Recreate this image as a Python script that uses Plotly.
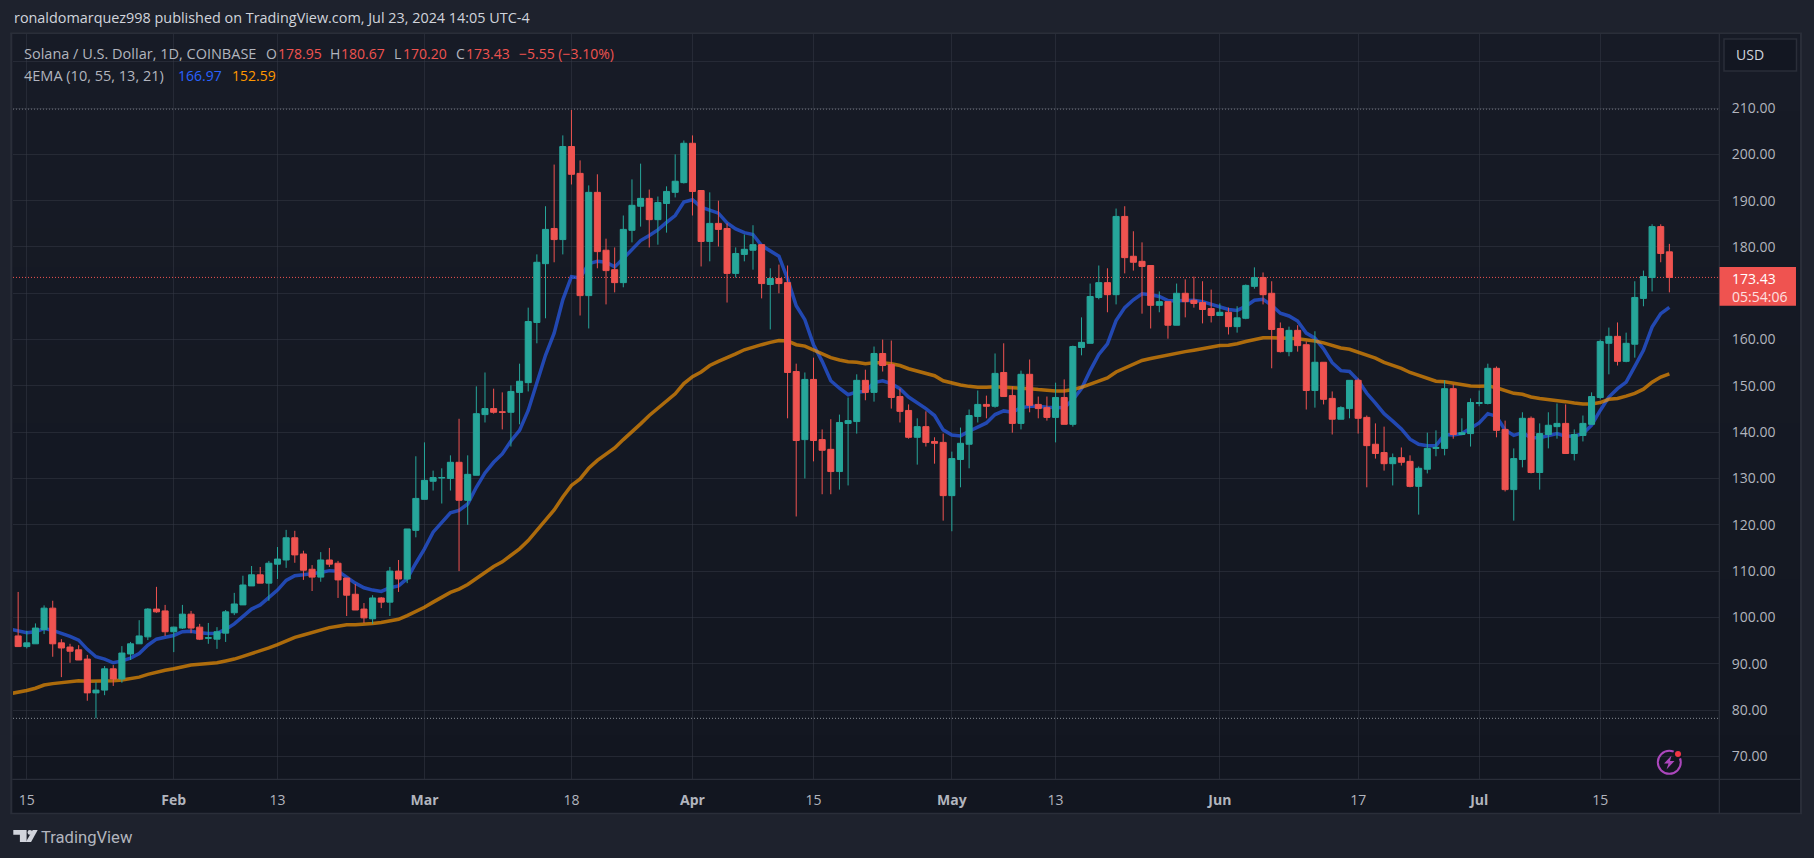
import pandas as pd
import plotly.graph_objects as go

# ---------- data ----------
start_date = "2024-01-14"
opens = [
 96.0,93.7,94.3,97.4,102.0,94.5,93.6,93.0,91.0,83.7,84.3,88.9,86.7,92.1,94.3,95.8,101.8,101.4,
 96.9,97.7,100.7,97.9,95.5,95.3,96.6,101.0,102.7,106.8,109.2,107.4,111.5,112.4,117.2,113.7,110.4,108.7,112.4,111.7,108.5,105.0,101.8,99.7,104.2,103.3,110.0,108.3,118.8,
 125.5,129.4,130.1,130.0,133.5,125.3,130.7,143.8,145.1,144.4,144.3,148.6,150.7,163.7,176.4,184.0,181.6,201.7,195.9,169.5,191.8,179.3,175.1,172.3,183.6,188.8,190.5,185.9,189.4,191.8,193.9,
 202.4,192.2,181.2,185.1,184.0,174.3,178.4,179.3,180.5,171.9,173.2,172.3,153.1,138.4,151.4,138.4,136.3,131.5,141.9,142.3,151.2,148.6,157.0,154.6,147.7,144.7,138.9,141.2,138.0,137.8,
 126.3,134.1,137.4,143.4,146.0,145.6,152.9,147.9,141.9,152.5,146.0,145.3,143.2,147.5,141.7,158.3,159.2,169.1,172.3,169.7,186.6,178.0,176.9,176.0,167.4,168.2,163.1,170.0,168.5,168.0,166.7,
 165.2,165.9,162.8,164.6,171.5,173.4,170.0,162.4,157.4,162.0,158.9,149.0,155.1,147.3,142.8,145.1,151.2,143.2,137.4,135.6,133.2,134.5,133.7,128.3,132.0,136.5,136.5,149.4,139.5,139.7,
 146.2,146.2,153.8,140.6,127.6,134.1,143.0,131.3,139.5,141.2,141.9,135.4,139.3,141.7,147.5,159.2,160.7,155.3,159.0,168.9,173.4,184.4,178.95]
highs = [
 105.5,97.1,98.7,102.6,103.6,95.3,94.3,94.0,91.9,86.0,89.5,89.7,93.8,94.7,99.4,102.0,106.6,102.7,
 98.0,102.7,101.4,98.6,98.8,97.9,101.6,105.3,109.0,111.1,110.9,112.2,115.2,118.9,118.7,114.4,111.3,114.1,115.0,112.2,108.5,107.2,103.1,104.8,104.4,110.9,112.4,119.1,134.8,
 137.8,131.7,132.2,135.0,142.9,135.0,149.9,152.9,149.4,148.6,150.1,154.8,166.9,178.4,188.8,197.8,204.1,209.6,198.7,193.3,195.7,181.8,179.9,186.8,194.6,198.0,192.4,190.9,193.1,200.0,203.0,
 204.1,192.2,191.8,190.0,185.1,179.9,182.7,184.7,180.5,175.4,176.2,176.0,154.8,152.9,156.1,140.6,142.8,143.8,147.5,152.5,153.5,158.5,160.0,159.8,149.4,146.0,143.0,144.5,138.9,139.7,
 135.8,141.0,144.9,149.0,147.9,157.0,159.2,149.9,153.3,155.7,147.7,147.7,150.7,151.4,158.7,164.8,172.1,176.0,175.4,188.3,188.8,183.4,181.0,176.0,170.4,168.2,172.1,173.0,173.6,172.6,170.8,
 167.8,166.9,167.2,171.9,175.6,174.5,172.6,163.7,162.8,163.1,159.6,161.8,155.1,148.8,145.6,151.2,151.6,143.6,141.9,141.2,135.4,136.7,135.0,132.6,139.9,140.4,151.2,150.3,143.0,147.3,
 149.0,154.8,154.2,142.5,136.5,144.3,143.4,141.9,144.3,146.2,146.0,140.6,143.6,148.6,160.0,162.6,163.7,161.5,172.6,174.9,184.9,184.9,180.67]
lows = [
 93.7,93.3,94.3,96.4,91.5,87.1,90.2,90.8,82.0,78.2,83.2,85.2,85.9,90.8,94.3,95.1,101.0,96.0,
 92.5,97.5,96.6,95.1,94.3,93.2,94.7,100.5,102.7,106.8,107.4,103.6,108.3,110.7,111.8,108.1,105.7,107.7,110.9,104.2,100.3,101.6,98.8,98.6,102.0,100.3,105.5,107.4,117.3,
 125.5,127.4,124.6,127.4,110.0,120.0,130.7,142.1,144.0,140.6,136.9,141.7,148.8,159.2,164.6,176.7,178.4,193.5,165.2,162.4,175.4,167.6,170.2,171.3,181.0,184.4,179.9,180.5,183.1,190.7,193.7,
 186.8,175.8,176.9,180.1,168.0,173.4,176.9,175.1,168.9,162.2,170.0,143.0,121.8,130.0,133.7,126.6,126.6,127.6,128.5,139.7,146.9,146.6,153.1,145.1,142.1,138.6,133.0,136.9,133.2,120.9,
 118.6,128.1,132.2,142.1,143.0,145.3,147.7,139.9,140.6,144.3,143.0,142.5,137.8,141.7,141.2,156.6,159.2,168.7,165.9,167.6,174.3,174.9,165.6,162.4,165.9,160.2,163.1,164.8,166.9,163.5,163.7,
 165.2,161.1,161.5,164.4,171.0,167.6,153.8,157.2,156.4,157.4,144.9,145.3,146.0,139.5,142.8,143.0,139.7,128.1,134.3,131.7,128.5,132.8,128.1,122.2,131.1,134.8,135.0,138.6,139.5,136.9,
 145.6,146.0,138.9,127.2,120.9,132.4,131.1,127.6,136.5,138.6,135.4,133.9,138.0,141.7,147.1,152.5,154.4,155.1,156.1,167.2,170.4,176.7,170.20]
closes = [
 93.7,94.5,97.7,102.0,94.3,93.4,92.7,90.8,83.7,84.3,88.9,86.7,92.3,94.3,96.0,101.8,101.2,96.9,
 97.9,100.7,97.7,95.3,95.6,96.9,101.2,102.9,107.0,109.2,107.4,111.7,112.6,117.2,113.5,110.2,108.7,112.4,111.5,108.1,104.8,101.6,99.9,104.2,103.3,110.0,108.3,119.1,125.7,
 129.6,130.2,130.2,133.5,125.3,130.9,144.0,145.1,144.3,144.3,148.8,151.0,163.9,176.7,183.8,181.6,201.7,195.7,169.5,191.8,179.0,174.9,172.3,183.8,189.0,190.5,185.9,189.6,192.0,194.2,202.4,
 192.0,181.2,185.1,183.8,174.3,178.6,179.5,180.5,172.1,173.2,172.1,152.9,138.2,151.4,138.2,136.1,131.5,142.1,142.5,151.2,148.6,157.0,154.4,147.5,144.5,138.9,141.2,137.8,137.6,126.3,
 134.3,137.6,143.6,146.0,145.6,152.7,147.7,141.9,152.5,145.8,145.1,143.2,147.5,141.7,158.5,159.4,169.3,172.3,169.7,186.6,177.7,176.7,175.8,167.4,168.2,163.1,170.0,168.2,167.8,166.5,165.2,
 165.9,162.8,164.7,171.7,173.4,169.7,162.2,157.4,162.0,158.7,149.0,155.1,147.1,142.8,145.3,151.2,143.0,137.1,135.4,133.2,134.5,133.5,128.3,132.2,136.5,136.7,149.4,139.5,139.9,146.4,
 146.4,153.8,140.4,127.6,134.3,143.0,131.3,139.7,141.5,141.9,135.4,139.5,141.9,147.7,159.6,160.7,155.3,159.2,169.1,173.6,184.4,178.6,173.43]

ema_start_date = "2024-01-13"
ema_fast = [
 97.5,97.1,96.7,96.9,97.6,97.2,96.6,95.9,95.1,93.1,91.5,91.0,90.2,90.6,91.2,92.2,94.0,95.3,95.7,
 96.1,96.9,97.0,96.7,96.5,96.6,97.4,98.6,100.2,101.8,102.7,104.4,105.9,108.0,109.0,109.2,109.4,109.7,110.1,110.0,108.7,107.4,106.4,105.9,105.6,106.4,106.8,108.4,111.7,
 114.8,118.4,120.4,122.6,123.1,124.5,128.1,131.2,133.5,135.3,138.1,140.4,144.7,150.8,156.6,161.4,168.6,173.6,173.3,176.4,176.9,176.7,175.7,177.5,179.4,181.4,182.5,183.7,185.3,186.8,189.7,
 190.2,188.6,188.0,187.3,185.2,183.9,183.1,182.7,180.3,179.1,178.0,173.1,167.3,164.3,158.9,155.3,151.1,149.5,148.1,148.7,148.8,150.7,151.1,150.5,149.4,147.6,146.4,145.1,143.6,140.5,
 139.4,139.2,140.2,141.2,142.0,143.8,144.6,144.3,145.3,145.6,145.6,145.4,145.3,145.3,147.0,149.4,153.3,156.8,159.1,164.1,166.9,168.6,169.9,169.7,169.3,168.4,168.4,168.5,168.5,168.2,167.6,
 167.2,166.5,166.3,167.2,168.5,168.7,167.4,165.7,165.1,164.0,161.4,160.3,158.0,155.0,153.3,153.1,151.2,148.4,146.3,144.0,142.4,140.7,138.5,137.4,137.1,137.1,139.5,139.4,139.7,140.9,
 142.0,144.0,143.4,140.5,139.3,139.9,138.8,138.8,139.3,139.7,139.1,139.2,139.7,141.5,144.7,147.6,149.4,150.8,154.2,157.7,162.7,165.6,166.97]
ema_slow = [
 83.5,83.8,84.2,84.7,85.4,85.7,85.9,86.2,86.3,86.2,86.2,86.2,86.3,86.5,86.8,87.1,87.7,88.2,88.6,
 88.9,89.3,89.7,89.9,90.0,90.2,90.6,91.0,91.6,92.2,92.7,93.4,94.1,95.0,95.7,96.2,96.7,97.3,97.8,98.1,98.4,98.4,98.5,98.7,98.9,99.2,99.6,100.4,101.2,
 102.2,103.3,104.3,105.4,106.1,107.1,108.4,109.7,111.0,112.0,113.3,114.8,116.6,118.9,121.2,123.2,126.0,128.5,129.9,132.2,133.9,135.2,136.6,138.4,140.0,141.8,143.6,145.1,146.6,148.3,150.5,
 152.0,153.0,154.4,155.3,156.0,156.9,157.8,158.4,158.9,159.4,159.8,159.7,158.9,158.6,157.8,156.9,156.1,155.6,155.2,155.1,154.8,155.0,155.0,154.8,154.4,153.7,153.2,152.8,152.2,151.1,
 150.6,150.2,149.9,149.7,149.7,149.8,149.7,149.6,149.6,149.4,149.2,149.0,148.9,148.9,149.2,149.7,150.4,151.0,151.7,153.0,153.8,154.6,155.5,155.9,156.3,156.6,157.0,157.4,157.7,158.0,158.4,
 158.7,158.8,159.1,159.6,160.0,160.4,160.4,160.4,160.3,160.2,160.0,159.7,159.3,158.7,158.2,157.9,157.3,156.6,156.0,155.1,154.5,153.8,152.9,152.2,151.5,151.0,150.9,150.6,150.2,150.0,
 149.9,150.0,149.6,148.9,148.4,148.2,147.6,147.3,147.1,146.9,146.6,146.3,146.1,146.1,146.4,147.1,147.3,147.8,148.4,149.3,150.8,151.9,152.59]

x_tick_dates = ["2024-01-15","2024-02-01","2024-02-13","2024-03-01","2024-03-18","2024-04-01","2024-04-15",
                "2024-05-01","2024-05-13","2024-06-01","2024-06-17","2024-07-01","2024-07-15"]
x_tick_text = ["15","<b>Feb</b>","13","<b>Mar</b>","18","<b>Apr</b>","15","<b>May</b>","13","<b>Jun</b>","17","<b>Jul</b>","15"]
y_tick_vals = [70,80,90,100,110,120,130,140,150,160,170,180,190,200,210,220]
y_tick_text = ["70.00","80.00","90.00","100.00","110.00","120.00","130.00","140.00","150.00","160.00","",
               "180.00","190.00","200.00","210.00",""]
range_high = 209.8
range_low = 78.2
price_change = "\u22125.55 (\u22123.10%)"
countdown = "05:54:06"

# ---------- styling ----------
FONT = "Open Sans"
UP, DOWN = "#26a69a", "#ef5350"
OUTER = "#1e222d"
BORDER = "#2a2e39"
GRID = "rgba(54,58,70,0.5)"
TEXT = "#b2b5be"
L, R, T, B = 12.7, 1719.0, 34.0, 779.0

def px(x): return (x - L) / (R - L)
def py(y): return (B - y) / (B - T)

def rect(x0, y0, x1, y1, fill, line=None, lw=0, layer="below"):
    return dict(type="rect", xref="paper", yref="paper", x0=px(x0), x1=px(x1), y0=py(y0), y1=py(y1),
                fillcolor=fill, line=dict(color=line or fill, width=lw), layer=layer)

def circle(cx, cy, r, fill, line=None, lw=0):
    return dict(type="circle", xref="paper", yref="paper", x0=px(cx-r), x1=px(cx+r), y0=py(cy-r), y1=py(cy+r),
                fillcolor=fill, line=dict(color=line or fill, width=lw), layer="above")

def poly(points, fill, layer="above"):
    p = "M " + " L ".join(f"{px(a):.6f},{py(b):.6f}" for a, b in points) + " Z"
    return dict(type="path", xref="paper", yref="paper", path=p, fillcolor=fill, line=dict(width=0), layer=layer)

def text(s, x, y, color=TEXT, size=14, anchor="left", family=FONT):
    return dict(text=s, xref="paper", yref="paper", x=px(x), y=py(y), xanchor=anchor, yanchor="middle", align="left",
                showarrow=False, borderpad=0, font=dict(family=family, size=size, color=color))

shapes = []
# pane background: faint vertical gradient
N = 20
for i in range(N):
    t = i / (N - 1)
    c = f"rgb({round(23-5*t)},{round(27-5*t)},{round(38-6*t)})"
    shapes.append(rect(11, 33 + i * 780 / N, 1801, 33 + (i + 1) * 780 / N + 0.5, c))
# pane borders
for a in [(10, 33, 12, 813.5), (1800, 33, 1802, 813.5), (10, 32.5, 1802, 34), (10, 812.7, 1802, 814.3),
          (1718.7, 34, 1720, 813), (12, 778.7, 1801, 780)]:
    shapes.append(rect(*a, BORDER))
# high / low / last price lines
for level, col in [(range_high, "rgba(178,181,190,0.75)"), (range_low, "rgba(178,181,190,0.75)"), (closes[-1], "#ef5350")]:
    shapes.append(dict(type="line", xref="paper", yref="y", x0=0, x1=1, y0=level, y1=level, layer="between",
                       line=dict(color=col, width=1, dash="1px,2px")))
# last price tag
shapes.append(rect(1719.5, 267, 1796, 305.7, "#ef5350", layer="above"))
# currency button
shapes.append(rect(1724, 39, 1796.5, 71, "#131722", BORDER, 1.5, layer="above"))
# tradingview logo
logo = "#d1d4dc"
shapes.append(poly([(13, 830), (26.3, 830), (26.3, 842), (19.6, 842), (19.6, 834.8), (13, 834.8)], logo))
shapes.append(circle(29.6, 832.4, 2.4, logo))
shapes.append(poly([(32.4, 830), (37.4, 830), (30.8, 842), (25.6, 842)], logo))
# alert badge
purple = "#ab47bc"
shapes.append(circle(1669.3, 762.3, 11.5, "rgba(0,0,0,0)", purple, 2))
shapes.append(poly([(1671.5, 755.5), (1664, 763.5), (1668.5, 763.5), (1666.5, 769.5), (1674.5, 761), (1670, 761)], purple))
shapes.append(circle(1678, 754, 5, "#131722"))
shapes.append(circle(1678, 754, 3, "#f23645"))

annotations = [
    text("ronaldomarquez998 published on TradingView.com, Jul 23, 2024 14:05 UTC-4", 13, 18, "#d1d4dc", 14.4),
    text("Solana / U.S. Dollar, 1D, COINBASE", 23, 54, size=14.5),
    text("O", 265, 54), text(f"{opens[-1]:.2f}", 277, 54, DOWN),
    text("H", 329, 54), text(f"{highs[-1]:.2f}", 340, 54, DOWN),
    text("L", 393, 54), text(f"{lows[-1]:.2f}", 402, 54, DOWN),
    text("C", 455, 54), text(f"{closes[-1]:.2f}", 464.5, 54, DOWN),
    text(price_change, 517.5, 54, DOWN),
    text("4EMA (10, 55, 13, 21)", 23, 75, size=14.5),
    text(f"{ema_fast[-1]:.2f}", 177, 75, "#2962ff"),
    text(f"{ema_slow[-1]:.2f}", 230.6, 75, "#ff9800"),
    text("USD", 1735, 54.7, "#d1d4dc"),
    text(f"{closes[-1]:.2f}<br><span style='color:#fde0e0'>{countdown}</span>", 1731.5, 287, "#ffffff"),
    text("TradingView", 39.5, 837, "#b2b5be", 16.6, family="Roboto"),
]

ohlc_dates = pd.date_range(start_date, periods=len(opens))
ema_dates = pd.date_range(ema_start_date, periods=len(ema_fast))

fig = go.Figure()
fig.add_trace(go.Scatter(x=ema_dates, y=ema_fast, mode="lines", line=dict(color="rgba(41,98,255,0.65)", width=3.5),
                         hoverinfo="skip"))
fig.add_trace(go.Scatter(x=ema_dates, y=ema_slow, mode="lines", line=dict(color="rgba(255,152,0,0.65)", width=3.5),
                         hoverinfo="skip"))
fig.add_trace(go.Candlestick(x=ohlc_dates, open=opens, high=highs, low=lows, close=closes, yaxis="y2",
                             whiskerwidth=0,
                             increasing=dict(line=dict(color=UP, width=1), fillcolor=UP),
                             decreasing=dict(line=dict(color=DOWN, width=1), fillcolor=DOWN)))

y_range = [65.1, 226.0]
fig.update_layout(
    width=1814, height=858, autosize=False, showlegend=False,
    margin=dict(l=L, r=1814 - R, t=T, b=858 - B, pad=0),
    paper_bgcolor=OUTER, plot_bgcolor="rgba(0,0,0,0)",
    font=dict(family=FONT, size=14, color=TEXT),
    shapes=shapes, annotations=annotations, hovermode=False,
    boxgap=0.3, boxgroupgap=0,
    xaxis=dict(type="date", range=["2024-01-13 09:42", "2024-07-28 17:46"], rangeslider=dict(visible=False),
               tickmode="array", tickvals=x_tick_dates, ticktext=x_tick_text, tickangle=0,
               showgrid=True, gridcolor=GRID, gridwidth=1, zeroline=False, showline=False,
               ticks="outside", ticklen=8, tickcolor="rgba(0,0,0,0)", tickfont=dict(family=FONT, size=14, color=TEXT)),
    yaxis=dict(side="right", range=y_range, tickmode="array", tickvals=y_tick_vals, ticktext=y_tick_text,
               showgrid=True, gridcolor=GRID, gridwidth=1, zeroline=False, showline=False,
               ticks="outside", ticklen=9, tickcolor="rgba(0,0,0,0)", tickfont=dict(family=FONT, size=14, color=TEXT)),
    yaxis2=dict(overlaying="y", side="right", range=y_range, visible=False),
)

fig.write_html("out.html", config={"displayModeBar": False},
               post_script="document.body.style.margin='0';document.body.style.background='#1e222d';")
